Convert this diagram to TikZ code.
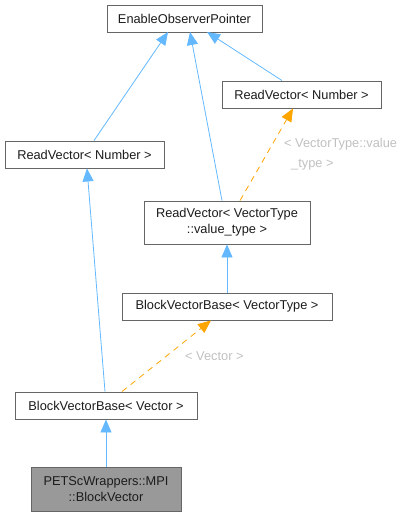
\documentclass[tikz,border=0pt]{standalone}
\usepackage{fontspec}
\setmainfont{Liberation Sans}
\usetikzlibrary{arrows.meta}
\definecolor{edgeblue}{HTML}{63B8FF}
\definecolor{edgeorange}{HTML}{FFA500}
\definecolor{lblgray}{HTML}{C0C0C0}
\definecolor{boxborder}{HTML}{666666}
\definecolor{txt}{HTML}{1C1C1C}
\begin{document}
\begin{tikzpicture}[x=1pt,y=-1pt,
  cls/.style={draw=boxborder, line width=0.9pt, fill=white, text=txt, font=\fontsize{12.8}{16}\selectfont, inner sep=0pt, align=center},
  inh/.style={draw=edgeblue, line width=0.8pt, -{Triangle[width=11pt,length=13pt]}},
  tmpl/.style={draw=edgeorange, line width=0.8pt, dash pattern=on 6pt off 5pt, -{Triangle[width=11pt,length=13pt]}},
  lbl/.style={text=lblgray, font=\fontsize{12.8}{16}\selectfont, inner sep=0pt, align=left}
]
\useasboundingbox (0,0) rectangle (410,516);
\node[cls, minimum width=155pt, minimum height=27pt] (eop) at (184.5,18.5) {EnableObserverPointer};
\node[cls, minimum width=159pt, minimum height=27pt] (rvr) at (301.5,94.5) {ReadVector< Number >};
\node[cls, minimum width=159pt, minimum height=27pt] (rvl) at (84.5,154.5) {ReadVector< Number >};
\node[cls, minimum width=166pt, minimum height=43pt] (rvvt) at (227,222.5) {ReadVector< VectorType\\::value\_type >};
\node[cls, minimum width=210pt, minimum height=27pt] (bvbvt) at (227,306.5) {BlockVectorBase< VectorType >};
\node[cls, minimum width=182pt, minimum height=27pt] (bvbv) at (106,405.5) {BlockVectorBase< Vector >};
\node[cls, fill=black!40, minimum width=150pt, minimum height=44pt] (pet) at (106,489) {PETScWrappers::MPI\\::BlockVector};

\coordinate (e1) at (168,32);
\coordinate (e2) at (190,32);
\coordinate (e3) at (207,32);
\draw[inh] (rvl.north -| 94,0) -- (e1);
\draw[inh] (rvvt.north -| 222,0) -- (e2);
\draw[inh] (rvr.north -| 282,0) -- (e3);
\draw[tmpl] (rvvt.north -| 240,0) -- (rvr.south -| 293,0);
\node[lbl, anchor=west] (l1) at (284,144) {< VectorType::value};
\node[lbl, anchor=west] (l2) at (291,165) {\_type >};
\draw[inh] (bvbvt) -- (rvvt);
\draw[inh] (bvbv.north -| 105,0) -- (rvl.south -| 87,0);
\draw[tmpl] (bvbv.north -| 122,0) -- (bvbvt.south -| 211,0);
\node[lbl, anchor=west] (l3) at (185,356) {< Vector >};
\draw[inh] (pet) -- (bvbv);
\end{tikzpicture}
\end{document}
